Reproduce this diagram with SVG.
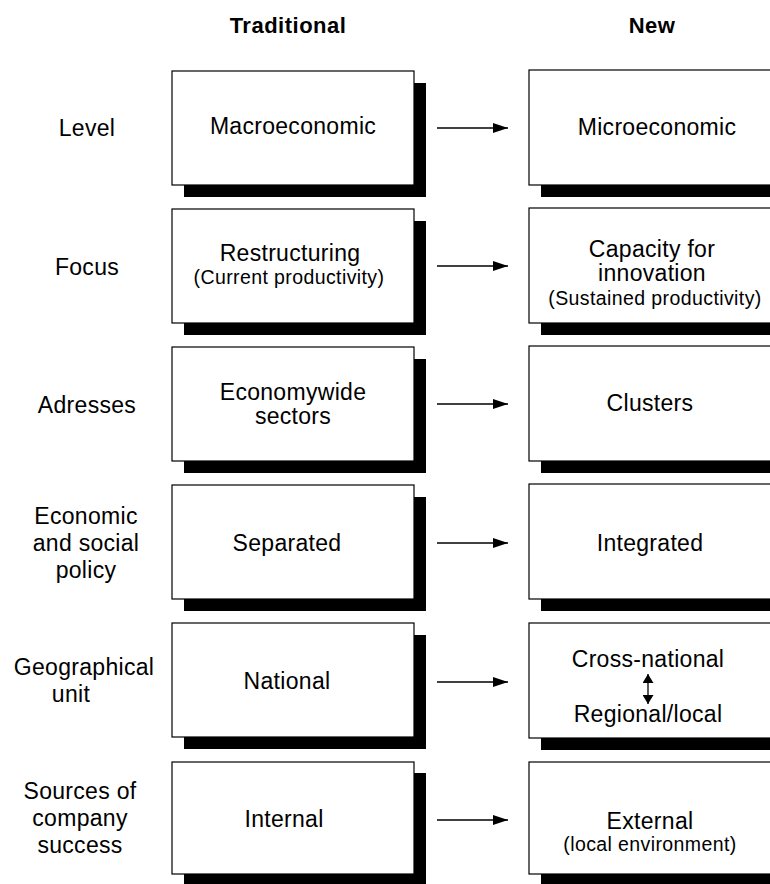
<svg xmlns="http://www.w3.org/2000/svg" width="770" height="884" viewBox="0 0 770 884">
<defs>
<style>
text{font-family:"Liberation Sans",Arial,Helvetica,sans-serif;fill:#000;text-anchor:middle}
.h{font-size:22px;font-weight:bold;letter-spacing:0.5px}
.t{font-size:23px;letter-spacing:0.3px}
.s{font-size:19.5px;letter-spacing:0.4px}
.shadow{fill:#000}
.box{fill:#fff;stroke:#000;stroke-width:1.2}
.conn{stroke:#000;stroke-width:1.3;fill:none}
</style>
<marker id="ah" markerUnits="userSpaceOnUse" markerWidth="16" markerHeight="10" refX="15" refY="5" orient="auto">
<path d="M0,0 L15,5 L0,10 z" fill="#000"/>
</marker>
<marker id="ah2" markerUnits="userSpaceOnUse" markerWidth="10" markerHeight="11" refX="9" refY="5.5" orient="auto-start-reverse">
<path d="M0,0 L9,5.5 L0,11 z" fill="#000"/>
</marker>
</defs>
<rect width="770" height="884" fill="#fff"/>

<g id="header-traditional"><text class="h" x="288" y="33">Traditional</text></g>
<g id="header-new"><text class="h" x="652" y="33">New</text></g>

<g id="label-level"><text class="t" x="87" y="136">Level</text></g>
<g id="label-focus"><text class="t" x="87" y="275">Focus</text></g>
<g id="label-adresses"><text class="t" x="87" y="413">Adresses</text></g>
<g id="label-policy"><text class="t" x="86" y="524">Economic</text><text class="t" x="86" y="551">and social</text><text class="t" x="86" y="578">policy</text></g>
<g id="label-geo"><text class="t" x="84" y="675">Geographical</text><text class="t" x="71" y="702">unit</text></g>
<g id="label-sources"><text class="t" x="80" y="799">Sources of</text><text class="t" x="80" y="826">company</text><text class="t" x="80" y="853">success</text></g>

<g id="trad-1"><rect class="shadow" x="184" y="83" width="242" height="114"/><rect class="box" x="172" y="71" width="242" height="114"/><text class="t" x="293" y="134">Macroeconomic</text></g>
<g id="trad-2"><rect class="shadow" x="184" y="221" width="242" height="114"/><rect class="box" x="172" y="209" width="242" height="114"/><text class="t" x="290" y="261">Restructuring</text><text class="s" x="289" y="284">(Current productivity)</text></g>
<g id="trad-3"><rect class="shadow" x="184" y="359" width="242" height="114"/><rect class="box" x="172" y="347" width="242" height="114"/><text class="t" x="293" y="400">Economywide</text><text class="t" x="293" y="424">sectors</text></g>
<g id="trad-4"><rect class="shadow" x="184" y="497" width="242" height="114"/><rect class="box" x="172" y="485" width="242" height="114"/><text class="t" x="287" y="551">Separated</text></g>
<g id="trad-5"><rect class="shadow" x="184" y="635" width="242" height="114"/><rect class="box" x="172" y="623" width="242" height="114"/><text class="t" x="287" y="689">National</text></g>
<g id="trad-6"><rect class="shadow" x="184" y="773" width="242" height="114"/><rect class="box" x="172" y="762" width="242" height="112"/><text class="t" x="284" y="827">Internal</text></g>

<g id="new-1"><rect class="shadow" x="541" y="82" width="242" height="115"/><rect class="box" x="529" y="70" width="242" height="115"/><text class="t" x="657" y="135">Microeconomic</text></g>
<g id="new-2"><rect class="shadow" x="541" y="220" width="242" height="115"/><rect class="box" x="529" y="208" width="242" height="115"/><text class="t" x="652" y="257">Capacity for</text><text class="t" x="652" y="281">innovation</text><text class="s" x="655" y="305">(Sustained productivity)</text></g>
<g id="new-3"><rect class="shadow" x="541" y="358" width="242" height="115"/><rect class="box" x="529" y="346" width="242" height="115"/><text class="t" x="650" y="411">Clusters</text></g>
<g id="new-4"><rect class="shadow" x="541" y="496" width="242" height="115"/><rect class="box" x="529" y="484" width="242" height="115"/><text class="t" x="650" y="551">Integrated</text></g>
<g id="new-5"><rect class="shadow" x="541" y="635" width="242" height="115"/><rect class="box" x="529" y="623" width="242" height="115"/><text class="t" x="648" y="667">Cross-national</text><text class="t" x="648" y="722">Regional/local</text></g>
<g id="new-6"><rect class="shadow" x="541" y="773" width="242" height="115"/><rect class="box" x="529" y="762" width="242" height="112"/><text class="t" x="650" y="829">External</text><text class="s" x="650" y="851">(local environment)</text></g>

<g id="connectors">
<line class="conn" x1="437" y1="128" x2="508" y2="128" marker-end="url(#ah)"/>
<line class="conn" x1="437" y1="266" x2="508" y2="266" marker-end="url(#ah)"/>
<line class="conn" x1="437" y1="404" x2="508" y2="404" marker-end="url(#ah)"/>
<line class="conn" x1="437" y1="543" x2="508" y2="543" marker-end="url(#ah)"/>
<line class="conn" x1="437" y1="682" x2="508" y2="682" marker-end="url(#ah)"/>
<line class="conn" x1="437" y1="820" x2="508" y2="820" marker-end="url(#ah)"/>
<line class="conn" x1="648" y1="674" x2="648" y2="704" marker-start="url(#ah2)" marker-end="url(#ah2)"/>
</g>
</svg>
